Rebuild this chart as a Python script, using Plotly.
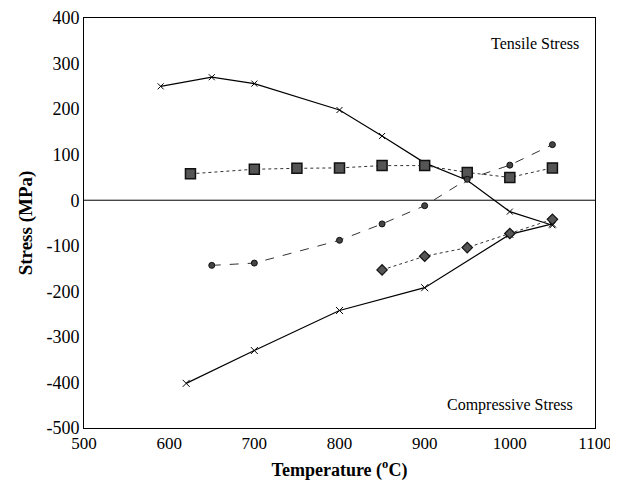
import plotly.graph_objects as go

# Data
t_upper = [590, 650, 700, 800, 850, 900, 950, 1000, 1050]
s_upper = [250, 270, 256, 198, 141, 82, 44, -25, -55]

t_lower = [620, 700, 800, 900, 1000, 1050]
s_lower = [-402, -330, -242, -192, -75, -52]

t_square = [625, 700, 750, 800, 850, 900, 950, 1000, 1050]
s_square = [58, 68, 70, 71, 76, 76, 61, 50, 71]

t_circle = [650, 700, 800, 850, 900, 950, 1000, 1050]
s_circle = [-143, -138, -88, -52, -12, 46, 77, 122]

t_diamond = [850, 900, 950, 1000, 1050]
s_diamond = [-153, -123, -104, -73, -42]

x_ticks = [500, 600, 700, 800, 900, 1000, 1100]
y_ticks = [-500, -400, -300, -200, -100, 0, 100, 200, 300, 400]
y_tick_labels = ["-500", "-400", "-300", "-200", "-100", "0", "100", "200", "300", "400"]

FONT = "Liberation Serif, Times New Roman, serif"

fig = go.Figure()
fig.add_trace(go.Scatter(x=t_upper, y=s_upper, mode="lines+markers",
                         line=dict(color="black", width=1.2),
                         marker=dict(symbol="x-thin", size=6, line=dict(color="black", width=1))))
fig.add_trace(go.Scatter(x=t_lower, y=s_lower, mode="lines+markers",
                         line=dict(color="black", width=1.2),
                         marker=dict(symbol="x-thin", size=7, line=dict(color="black", width=1))))
fig.add_trace(go.Scatter(x=t_square, y=s_square, mode="lines+markers",
                         line=dict(color="#333", width=1, dash="dot"),
                         marker=dict(symbol="square", size=10, color="#555",
                                     line=dict(color="#111", width=1.5))))
fig.add_trace(go.Scatter(x=t_circle, y=s_circle, mode="lines+markers",
                         line=dict(color="#333", width=1, dash="dash"),
                         marker=dict(symbol="circle", size=6, color="#444",
                                     line=dict(color="#111", width=1))))
fig.add_trace(go.Scatter(x=t_diamond, y=s_diamond, mode="lines+markers",
                         line=dict(color="#333", width=1, dash="dot"),
                         marker=dict(symbol="diamond", size=8, color="#555",
                                     line=dict(color="#111", width=1.2))))

fig.add_hline(y=0, line=dict(color="black", width=1))

fig.add_annotation(x=1029, y=343, text="Tensile Stress", showarrow=False,
                   xanchor="center", font=dict(family=FONT, size=16, color="black"))
fig.add_annotation(x=1000, y=-450, text="Compressive Stress", showarrow=False,
                   xanchor="center", font=dict(family=FONT, size=16, color="black"))

fig.update_layout(
    width=610, height=491,
    margin=dict(l=76, r=23, t=10, b=71, autoexpand=False),
    paper_bgcolor="white", plot_bgcolor="white",
    showlegend=False,
    font=dict(family=FONT, color="black", size=17),
    xaxis=dict(range=[500, 1100], tickvals=x_ticks, showgrid=False, zeroline=False,
               showline=True, linecolor="black", linewidth=1, mirror=True,
               ticks="", tickfont=dict(size=17), automargin=False, ticklabeloverflow="allow",
               title=dict(text="<b>Temperature (<sup>o</sup>C)</b>", font=dict(size=18), standoff=10)),
    yaxis=dict(range=[-500, 400], tickvals=y_ticks, ticktext=y_tick_labels,
               showgrid=False, zeroline=False,
               showline=True, linecolor="black", linewidth=1, mirror=True,
               ticks="", tickfont=dict(size=18), automargin=False, ticklabeloverflow="allow",
               title=dict(text="<b>Stress (MPa)</b>", font=dict(size=19), standoff=8)),
)

fig.write_html("out.html")
